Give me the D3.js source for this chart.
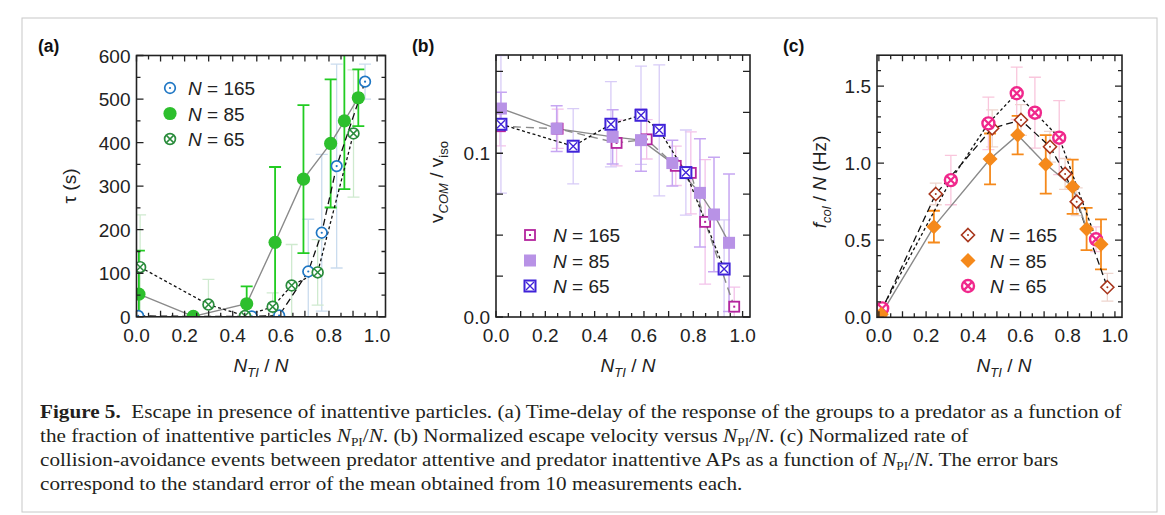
<!DOCTYPE html>
<html lang="en">
<head>
<meta charset="UTF-8">
<title>Figure 5</title>
<script src="https://cdn.jsdelivr.net/npm/d3@7"></script>
<style>
    body { margin: 0; background: #fff; }
    svg { font-family: "Liberation Sans", Arial, sans-serif; }
</style>
</head>
<body>
<script>
// ---- panel (a): tau (s) vs N_TI/N ----
var aX165 = [0.007, 0.236, 0.479, 0.593, 0.714, 0.770, 0.832, 0.950];
var aY165 = [2, 1, 1, 3, 104, 193, 346, 540];
var aE165 = [0, 0, 0, 0, 120, 180, 234, 40];
var aX85 = [0.010, 0.236, 0.458, 0.576, 0.694, 0.807, 0.864, 0.922];
var aY85 = [52, 1, 30, 171, 316, 398, 450, 503];
var aE85 = [100, 0, 40, 173, 170, 147, 157, 65];
var aX65 = [0.015, 0.299, 0.451, 0.566, 0.645, 0.753, 0.902];
var aY65 = [114, 28, 2, 23, 72, 102, 421];
var aE65 = [120, 58, 0, 32, 94, 75, 146];

// ---- panel (b): v_COM / v_iso ----
var bX165 = [0.016, 0.250, 0.489, 0.611, 0.729, 0.790, 0.848, 0.966];
var bY165 = [0.1165, 0.115, 0.1063, 0.1085, 0.0923, 0.088, 0.0581, 0.0063];
var bE165 = [0.012, 0.012, 0.014, 0.012, 0.012, 0.025, 0.038, 0.012];
var bX85 = [0.020, 0.246, 0.473, 0.588, 0.715, 0.827, 0.884, 0.945];
var bY85 = [0.1273, 0.115, 0.110, 0.108, 0.094, 0.0758, 0.0626, 0.0453];
var bE85 = [0.010, 0.014, 0.0166, 0.019, 0.014, 0.033, 0.035, 0.042];
var bX65 = [0.020, 0.313, 0.466, 0.588, 0.662, 0.770, 0.925];
var bY65 = [0.1177, 0.1043, 0.1177, 0.1232, 0.114, 0.0882, 0.0293];
var bE65 = [0.042, 0.023, 0.026, 0.030, 0.040, 0.026, 0.030];

// ---- panel (c): f_col / N (Hz) ----
var cX165 = [0.009, 0.241, 0.480, 0.602, 0.725, 0.789, 0.838, 0.968];
var cY165 = [0.036, 0.80, 1.226, 1.28, 1.106, 0.93, 0.75, 0.195];
var cE165 = [0.02, 0.07, 0.12, 0.10, 0.10, 0.10, 0.09, 0.09];
var cX85 = [0.010, 0.233, 0.471, 0.588, 0.707, 0.821, 0.880, 0.941];
var cY85 = [0.02, 0.588, 1.027, 1.182, 0.992, 0.847, 0.573, 0.473];
var cE85 = [0.01, 0.103, 0.165, 0.125, 0.19, 0.176, 0.137, 0.162];
var cX65 = [0.014, 0.305, 0.464, 0.584, 0.661, 0.764, 0.920];
var cY65 = [0.058, 0.89, 1.258, 1.453, 1.327, 1.165, 0.506];
var cE65 = [0.02, 0.16, 0.17, 0.17, 0.23, 0.24, 0.08];

var legendLabels = ["165", "85", "65"];
var xTickLabels = [0, 0.2, 0.4, 0.6, 0.8, 1.0];

function pts(xs, ys, es) {
    return xs.map((x, i) => ({ x: x, y: ys[i], e: es[i] }));
}

var svg = d3.select("body").append("svg")
    .attr("width", 1165)
    .attr("height", 515);

// figure frame
svg.append("rect")
    .attr("x", 22).attr("y", 18)
    .attr("width", 1135).attr("height", 494)
    .attr("fill", "none").attr("stroke", "#c8c8c8").attr("stroke-width", 1);

var panels = [
    {
        id: "a", label: "(a)", labelX: 38,
        xr: [136.5, 385.5], xd: [0, 1.035],
        yr: [316.8, 55.5], yd: [0, 600],
        yTicks: d3.range(0, 601, 50), yMajor: v => v % 100 === 0, yFmt: d3.format("d"),
        series: [
            { d: pts(aX165, aY165, aE165), mk: "circleDot", col: "#1f77c4", err: "#cadcee", line: "#111", dash: "7,4", lw: 1.3 },
            { d: pts(aX85, aY85, aE85), mk: "circleFill", col: "#2dbf2d", err: "#22cc22", errW: 1.8, line: "#8a8a8a", dash: null, lw: 1.4 },
            { d: pts(aX65, aY65, aE65), mk: "circleX", col: "#2a8c3c", err: "#cfeacf", line: "#111", dash: "3,2.5", lw: 1.3 }
        ],
        legend: { mx: 170, my: 88, tx: 188 },
        ytitle: "tau", ytx: 76, yty: 186, xtx: 261
    },
    {
        id: "b", label: "(b)", labelX: 412,
        xr: [496, 750], xd: [0, 1.03],
        yr: [317, 55], yd: [0, 0.16],
        yTicks: d3.range(0, 7).map(i => i * 0.025), yMajor: v => true,
        yFmt: v => (Math.abs(v) < 1e-9 ? "0.0" : Math.abs(v - 0.1) < 1e-9 ? "0.1" : ""),
        series: [
            { d: pts(bX165, bY165, bE165), mk: "squareDot", col: "#b4259e", err: "#f3c2ea", line: "#8a8a8a", dash: "8,5", lw: 1.4 },
            { d: pts(bX85, bY85, bE85), mk: "squareFill", col: "#b892e6", err: "#c6a6f2", errW: 1.5, line: "#8a8a8a", dash: null, lw: 1.4 },
            { d: pts(bX65, bY65, bE65), mk: "squareX", col: "#3f22d8", err: "#d8ccf7", line: "#111", dash: "3,2.5", lw: 1.3 }
        ],
        legend: { mx: 530, my: 235, tx: 553 },
        ytitle: "v", ytx: 443, yty: 182, xtx: 628
    },
    {
        id: "c", label: "(c)", labelX: 783,
        xr: [877, 1122], xd: [-0.008, 1.03],
        yr: [317.3, 55.2], yd: [0, 1.7],
        yTicks: d3.range(0, 17).map(i => i / 10), yMajor: v => Math.abs(v * 2 - Math.round(v * 2)) < 1e-9,
        yFmt: d3.format(".1f"),
        series: [
            { d: pts(cX165, cY165, cE165), mk: "diamondDot", col: "#a8361c", err: "#eed5ce", line: "#111", dash: "7,4", lw: 1.3 },
            { d: pts(cX85, cY85, cE85), mk: "diamondFill", col: "#f5891b", err: "#f5891b", errW: 1.8, line: "#8a8a8a", dash: null, lw: 1.4 },
            { d: pts(cX65, cY65, cE65), mk: "pinkX", col: "#f0288c", err: "#f9c6dc", line: "#111", dash: "3,2.5", lw: 1.3 }
        ],
        legend: { mx: 968, my: 235, tx: 990 },
        ytitle: "f", ytx: 826, yty: 182, xtx: 1004
    }
];

function marker(g, type, col, x, y) {
    if (type === "circleDot") {
        g.append("circle").attr("cx", x).attr("cy", y).attr("r", 5.3).attr("fill", "#fff").attr("stroke", col).attr("stroke-width", 1.7);
        g.append("circle").attr("cx", x).attr("cy", y).attr("r", 1.1).attr("fill", col);
    } else if (type === "circleFill") {
        g.append("circle").attr("cx", x).attr("cy", y).attr("r", 6.6).attr("fill", col);
    } else if (type === "circleX") {
        g.append("circle").attr("cx", x).attr("cy", y).attr("r", 5.4).attr("fill", "#fff").attr("stroke", col).attr("stroke-width", 1.7);
        var k = 3.6;
        g.append("path").attr("d", `M${x - k},${y - k}L${x + k},${y + k}M${x - k},${y + k}L${x + k},${y - k}`)
            .attr("stroke", col).attr("stroke-width", 1.5);
    } else if (type === "squareDot") {
        g.append("rect").attr("x", x - 5).attr("y", y - 5).attr("width", 10).attr("height", 10)
            .attr("fill", "#fff").attr("stroke", col).attr("stroke-width", 1.8);
        g.append("rect").attr("x", x - 1).attr("y", y - 1).attr("width", 2).attr("height", 2).attr("fill", col);
    } else if (type === "squareFill") {
        g.append("rect").attr("x", x - 6).attr("y", y - 6).attr("width", 12).attr("height", 12).attr("fill", col);
    } else if (type === "squareX") {
        g.append("rect").attr("x", x - 5.5).attr("y", y - 5.5).attr("width", 11).attr("height", 11)
            .attr("fill", "#fff").attr("stroke", col).attr("stroke-width", 2);
        var s = 4;
        g.append("path").attr("d", `M${x - s},${y - s}L${x + s},${y + s}M${x - s},${y + s}L${x + s},${y - s}`)
            .attr("stroke", col).attr("stroke-width", 1.3);
    } else if (type === "diamondDot") {
        var r = 6.5;
        g.append("path").attr("d", `M${x},${y - r}L${x + r},${y}L${x},${y + r}L${x - r},${y}Z`)
            .attr("fill", "#fff").attr("stroke", col).attr("stroke-width", 1.6);
        g.append("circle").attr("cx", x).attr("cy", y).attr("r", 1).attr("fill", col);
    } else if (type === "diamondFill") {
        var r2 = 7.5;
        g.append("path").attr("d", `M${x},${y - r2}L${x + r2},${y}L${x},${y + r2}L${x - r2},${y}Z`).attr("fill", col);
    } else if (type === "pinkX") {
        g.append("circle").attr("cx", x).attr("cy", y).attr("r", 6).attr("fill", "#fff").attr("stroke", col).attr("stroke-width", 2.4);
        var q = 4.6;
        g.append("path").attr("d", `M${x - q},${y - q}L${x + q},${y + q}M${x - q},${y + q}L${x + q},${y - q}`)
            .attr("stroke", col).attr("stroke-width", 2.2);
    }
}

panels.forEach(function (p) {
    var x = d3.scaleLinear().domain(p.xd).range(p.xr);
    var y = d3.scaleLinear().domain(p.yd).range(p.yr);
    var g = svg.append("g").attr("class", "panel-" + p.id);

    var clipId = "clip-" + p.id;
    svg.append("clipPath").attr("id", clipId).append("rect")
        .attr("x", p.xr[0]).attr("y", p.yr[1])
        .attr("width", p.xr[1] - p.xr[0]).attr("height", p.yr[0] - p.yr[1]);
    var plot = g.append("g").attr("clip-path", `url(#${clipId})`);

    // error bars first (pale ones under the bold ones)
    var order = [0, 2, 1];
    order.forEach(function (si) {
        var s = p.series[si];
        s.d.filter(d => d.e > 0).forEach(function (d) {
            var y1 = y(d.y + d.e), y0 = y(d.y - d.e), cx = x(d.x), cw = 6;
            plot.append("path")
                .attr("d", `M${cx},${y0}V${y1}M${cx - cw},${y1}H${cx + cw}M${cx - cw},${y0}H${cx + cw}`)
                .attr("fill", "none")
                .attr("stroke", s.err)
                .attr("stroke-width", s.errW || 1.3);
        });
    });

    // connecting lines
    var line = d3.line().x(d => x(d.x)).y(d => y(d.y));
    p.series.forEach(function (s) {
        plot.append("path")
            .datum(s.d)
            .attr("d", line)
            .attr("fill", "none")
            .attr("stroke", s.line)
            .attr("stroke-width", s.lw)
            .attr("stroke-dasharray", s.dash);
    });

    // markers
    [0, 2, 1].forEach(function (si) {
        var s = p.series[si];
        s.d.forEach(d => marker(plot, s.mk, s.col, x(d.x), y(d.y)));
    });

    // frame
    g.append("rect")
        .attr("x", p.xr[0]).attr("y", p.yr[1])
        .attr("width", p.xr[1] - p.xr[0]).attr("height", p.yr[0] - p.yr[1])
        .attr("fill", "none").attr("stroke", "#222").attr("stroke-width", 1.6);

    // inward ticks on all four sides
    var xt = d3.range(0, 21).map(i => i * 0.05).filter(v => v <= p.xd[1]);
    xt.forEach(function (v) {
        var len = Math.abs(v * 10 - Math.round(v * 10)) < 1e-6 ? 6 : 4;
        g.append("path")
            .attr("d", `M${x(v)},${p.yr[0]}v${-len}M${x(v)},${p.yr[1]}v${len}`)
            .attr("stroke", "#222").attr("stroke-width", 1.3);
    });
    p.yTicks.forEach(function (v) {
        var len = p.yMajor(v) ? 7 : 4;
        g.append("path")
            .attr("d", `M${p.xr[0]},${y(v)}h${len}M${p.xr[1]},${y(v)}h${-len}`)
            .attr("stroke", "#222").attr("stroke-width", 1.3);
    });

    // tick labels
    g.selectAll(".xl").data(xTickLabels).enter().append("text")
        .attr("x", d => x(d)).attr("y", 342)
        .attr("text-anchor", "middle")
        .attr("font-size", 19).attr("fill", "#222")
        .text(d => d3.format(".1f")(d));
    g.selectAll(".yl").data(p.yTicks.filter(p.yMajor)).enter().append("text")
        .attr("x", p.xr[0] - 6).attr("y", d => y(d) + 7)
        .attr("text-anchor", "end")
        .attr("font-size", 19).attr("fill", "#222")
        .text(d => p.yFmt(d));

    // panel label
    g.append("text").attr("x", p.labelX).attr("y", 52)
        .attr("font-size", 17.5).attr("font-weight", "bold").attr("fill", "#111")
        .text(p.label);

    // x-axis title: N_TI / N
    var xt1 = g.append("text").attr("x", p.xtx).attr("y", 372)
        .attr("text-anchor", "middle").attr("font-size", 19).attr("fill", "#222");
    xt1.append("tspan").attr("font-style", "italic").text("N");
    xt1.append("tspan").attr("font-style", "italic").attr("font-size", 13).attr("dy", 5).text("TI");
    xt1.append("tspan").attr("dy", -5).text(" / ");
    xt1.append("tspan").attr("font-style", "italic").text("N");

    // y-axis title (rotated)
    var yt = g.append("text")
        .attr("transform", `translate(${p.ytx},${p.yty}) rotate(-90)`)
        .attr("text-anchor", "middle").attr("font-size", 19).attr("fill", "#222");
    if (p.ytitle === "tau") {
        yt.text("\u03C4 (s)");
    } else if (p.ytitle === "v") {
        yt.append("tspan").text("v");
        yt.append("tspan").attr("font-style", "italic").attr("font-size", 13).attr("dy", 5).text("COM");
        yt.append("tspan").attr("dy", -5).text(" / v");
        yt.append("tspan").attr("font-size", 13).attr("dy", 5).text("iso");
    } else {
        yt.append("tspan").attr("font-style", "italic").text("f");
        yt.append("tspan").attr("font-style", "italic").attr("font-size", 13).attr("dy", 5).text("col");
        yt.append("tspan").attr("dy", -5).text(" / ");
        yt.append("tspan").attr("font-style", "italic").text("N");
        yt.append("tspan").text(" (Hz)");
    }

    // legend
    p.series.forEach(function (s, i) {
        var ly = p.legend.my + i * 25.5;
        marker(g, s.mk, s.col, p.legend.mx, ly);
        var t = g.append("text").attr("x", p.legend.tx).attr("y", ly + 7)
            .attr("font-size", 19).attr("fill", "#222");
        t.append("tspan").attr("font-style", "italic").text("N");
        t.append("tspan").text(" = " + legendLabels[i]);
    });
});

// caption
var capFont = "'Liberation Serif', 'DejaVu Serif', serif";
function npi(t) {
    t.append("tspan").attr("font-style", "italic").text("N");
    t.append("tspan").attr("font-size", 12).attr("dy", 4).text("PI");
    t.append("tspan").attr("dy", -4).text("/");
    t.append("tspan").attr("font-style", "italic").text("N");
}
var capY = [418, 442, 466, 490];
var caps = capY.map(cy => svg.append("text")
    .attr("font-family", capFont).attr("font-size", 19).attr("fill", "#231f20"));

caps[0].append("tspan").attr("font-weight", "bold").text("Figure 5.");
caps[0].append("tspan").text("\u00A0\u00A0Escape in presence of inattentive particles. (a) Time-delay of the response of the groups to a predator as a function of");

caps[1].append("tspan").text("the fraction of inattentive particles ");
npi(caps[1]);
caps[1].append("tspan").text(". (b) Normalized escape velocity versus ");
npi(caps[1]);
caps[1].append("tspan").text(". (c) Normalized rate of");

caps[2].append("tspan").text("collision-avoidance events between predator attentive and predator inattentive APs as a function of ");
npi(caps[2]);
caps[2].append("tspan").text(". The error bars");

caps[3].append("tspan").text("correspond to the standard error of the mean obtained from 10 measurements each.");

// the caption face is condensed: squeeze every line by the same factor, set so line 1 fits its width
var ratio = 1082 / caps[0].node().getComputedTextLength();
caps.forEach(function (t, i) {
    t.attr("transform", `translate(40,${capY[i]}) scale(${ratio},1)`);
});
</script>
</body>
</html>
